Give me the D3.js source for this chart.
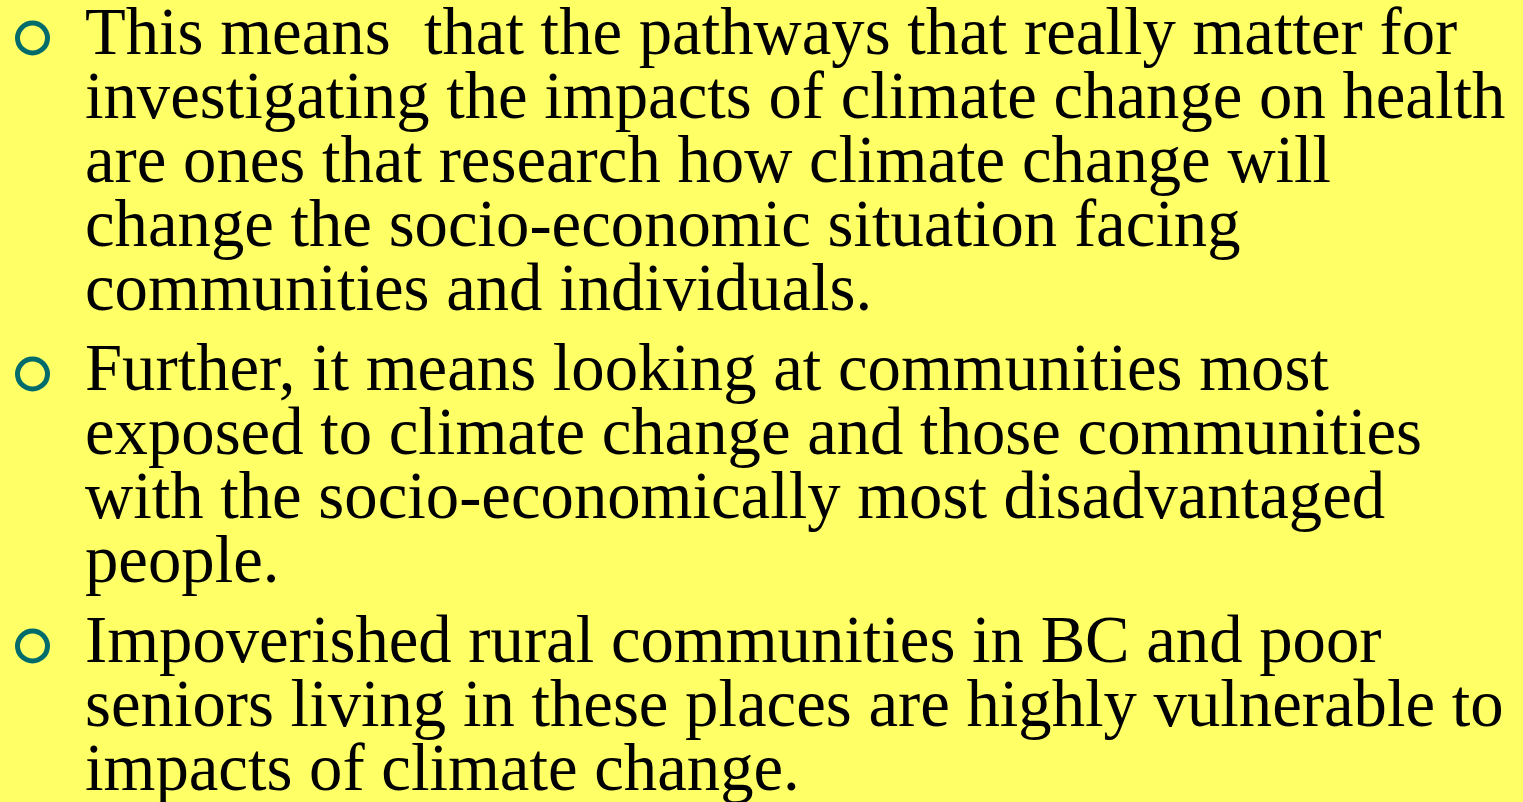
<!DOCTYPE html>
<html>
<head>
<meta charset="utf-8">
<script src="https://cdn.jsdelivr.net/npm/d3@7"></script>
<style>
  html, body { margin: 0; padding: 0; background: #FFFF66; overflow: hidden; }
  svg { display: block; }
</style>
</head>
<body>
<svg id="chart" width="1523" height="802"></svg>
<script>
// Slide content: one array of lines per bullet
const bullet1 = [
  "This means  that the pathways that really matter for",
  "investigating the impacts of climate change on health",
  "are ones that research how climate change will",
  "change the socio-economic situation facing",
  "communities and individuals."
];
const bullet2 = [
  "Further, it means looking at communities most",
  "exposed to climate change and those communities",
  "with the socio-economically most disadvantaged",
  "people."
];
const bullet3 = [
  "Impoverished rural communities in BC and poor",
  "seniors living in these places are highly vulnerable to",
  "impacts of climate change."
];
const bullets = [bullet1, bullet2, bullet3];

const W = 1523, H = 802;
const svg = d3.select("#chart");
svg.append("rect").attr("width", W).attr("height", H).attr("fill", "#FFFF66");

// flatten lines with global index and paragraph index
const lines = [];
bullets.forEach((b, p) => b.forEach((t, i) => lines.push({ text: t, para: p, first: i === 0, idx: lines.length })));

const lineStep = 64, paraGap = 16, firstBaseline = 54;
const yLine = d3.scaleLinear().domain([0, 1]).range([firstBaseline, firstBaseline + lineStep]);
const baseline = d => yLine(d.idx) + d.para * paraGap;

const textX = 85, fontSize = 66.7;

svg.append("g").selectAll("text").data(lines).join("text")
  .attr("x", textX)
  .attr("y", baseline)
  .attr("font-family", "'Liberation Serif', 'Times New Roman', serif")
  .attr("font-size", fontSize)
  .attr("fill", "#000")
  .style("white-space", "pre")
  .attr("xml:space", "preserve")
  .text(d => d.text);

svg.append("g").selectAll("circle").data(lines.filter(d => d.first)).join("circle")
  .attr("cx", 32.5)
  .attr("cy", d => baseline(d) - 16)
  .attr("r", 15)
  .attr("fill", "none")
  .attr("stroke", "#006B6B")
  .attr("stroke-width", 5);
</script>
</body>
</html>
